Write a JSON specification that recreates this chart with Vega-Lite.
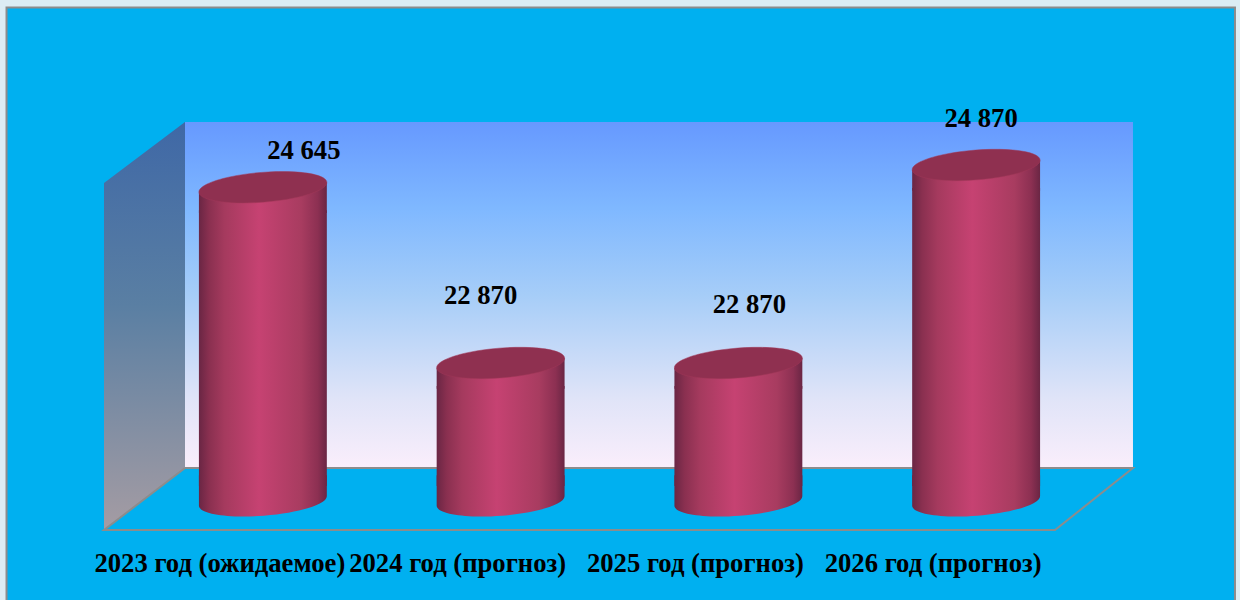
{
  "$schema": "https://vega.github.io/schema/vega-lite/v6.json",
  "width": 951,
  "height": 408,
  "autosize": {"type": "none"},
  "padding": {"left": 104, "top": 122, "right": 185, "bottom": 70},
  "background": "#dcedf4",
  "config": {"view": {"stroke": null}},
  "datasets": {
    "bars": [
      {"period": "2023 год (ожидаемое)", "value": 24645, "label": "24 645"},
      {"period": "2024 год (прогноз)", "value": 22870, "label": "22 870"},
      {"period": "2025 год (прогноз)", "value": 22870, "label": "22 870"},
      {"period": "2026 год (прогноз)", "value": 24870, "label": "24 870"}
    ],
    "panel": [{"u": -0.41, "u2": 4.757, "v": 26754, "v2": 20749}],
    "backWall": [{"u": 0.3407, "u2": 4.328, "v": 25597, "v2": 22102}],
    "leftWall": [
      {"u": 0, "v": 24981, "v2": 21476},
      {"u": 0.3407, "v": 25597, "v2": 22102}
    ],
    "floor": [
      {"n": 1, "u": 0.3407, "v": 22102},
      {"n": 2, "u": 4.328, "v": 22102},
      {"n": 3, "u": 4, "v": 21476},
      {"n": 4, "u": 0, "v": 21476},
      {"n": 5, "u": 0.3407, "v": 22102}
    ]
  },
  "layer": [
    {
      "data": {"name": "panel"},
      "mark": {"type": "rect", "fill": "#00b0f0", "stroke": "#8c8c8c", "strokeWidth": 2, "clip": false},
      "encoding": {
        "x": {"field": "u", "type": "quantitative", "scale": {"domain": [0, 4], "nice": false, "zero": false}, "axis": null},
        "x2": {"field": "u2"},
        "y": {"field": "v", "type": "quantitative", "scale": {"domain": [21476, 25597], "nice": false, "zero": false}, "axis": null},
        "y2": {"field": "v2"}
      }
    },
    {
      "data": {"name": "backWall"},
      "mark": {"type": "rect", "fill": {"gradient": "linear", "x1": 0, "y1": 0, "x2": 0, "y2": 1, "stops": [
        {"offset": 0, "color": "#6699ff"},
        {"offset": 0.25, "color": "#7fb8ff"},
        {"offset": 0.5, "color": "#a6cdf8"},
        {"offset": 0.8, "color": "#e0e4f8"},
        {"offset": 1, "color": "#faeefb"}
      ]}},
      "encoding": {
        "x": {"field": "u", "type": "quantitative", "scale": {"domain": [0, 4], "nice": false, "zero": false}, "axis": null},
        "x2": {"field": "u2"},
        "y": {"field": "v", "type": "quantitative", "axis": null},
        "y2": {"field": "v2"}
      }
    },
    {
      "data": {"name": "leftWall"},
      "mark": {"type": "area", "orient": "vertical", "fill": {"gradient": "linear", "x1": 0, "y1": 0, "x2": 0, "y2": 1, "stops": [
        {"offset": 0, "color": "#3f68a6"},
        {"offset": 0.45, "color": "#5a7fa3"},
        {"offset": 1, "color": "#a59ca3"}
      ]}},
      "encoding": {
        "x": {"field": "u", "type": "quantitative", "scale": {"domain": [0, 4], "nice": false, "zero": false}, "axis": null},
        "y": {"field": "v", "type": "quantitative", "axis": null},
        "y2": {"field": "v2"}
      }
    },
    {
      "data": {"name": "floor"},
      "mark": {"type": "line", "color": "#8c8c8c", "strokeWidth": 2, "clip": false},
      "encoding": {
        "x": {"field": "u", "type": "quantitative", "scale": {"domain": [0, 4], "nice": false, "zero": false}, "axis": null},
        "y": {"field": "v", "type": "quantitative", "axis": null},
        "order": {"field": "n"}
      }
    },
    {
      "data": {"name": "bars"},
      "mark": {"type": "point", "filled": true, "opacity": 1, "size": 16461, "xOffset": 40, "yOffset": -29,
        "shape": "M -0.9969 -0.4 L 0.9969 -0.4 L 0.9969 -0.0785 A 1 0.231 -4.5 0 1 -0.9969 0.0785 Z",
        "fill": {"gradient": "linear", "x1": 0, "y1": 0, "x2": 1, "y2": 0, "stops": [
          {"offset": 0, "color": "#6a2644"},
          {"offset": 0.08, "color": "#8a3050"},
          {"offset": 0.2, "color": "#a53a5e"},
          {"offset": 0.47, "color": "#c64272"},
          {"offset": 0.8, "color": "#a83c60"},
          {"offset": 0.93, "color": "#8c3052"},
          {"offset": 1, "color": "#6a2644"}
        ]}},
      "encoding": {
        "x": {"field": "period", "type": "nominal", "sort": null, "scale": {"type": "band", "paddingInner": 0.462, "paddingOuter": 0.231}, "axis": null},
        "y": {"datum": 21476, "type": "quantitative", "axis": null}
      }
    },
    {
      "data": {"name": "bars"},
      "mark": {"type": "point", "filled": true, "opacity": 1, "size": 16461, "xOffset": 40, "yOffset": -29,
        "shape": "M -0.9969 0.0785 L -0.9969 0.4 L 0.9969 0.4 L 0.9969 -0.0785 Z",
        "fill": {"gradient": "linear", "x1": 0, "y1": 0, "x2": 1, "y2": 0, "stops": [
          {"offset": 0, "color": "#6a2644"},
          {"offset": 0.08, "color": "#8a3050"},
          {"offset": 0.2, "color": "#a53a5e"},
          {"offset": 0.47, "color": "#c64272"},
          {"offset": 0.8, "color": "#a83c60"},
          {"offset": 0.93, "color": "#8c3052"},
          {"offset": 1, "color": "#6a2644"}
        ]}},
      "encoding": {
        "x": {"field": "period", "type": "nominal", "sort": null, "scale": {"type": "band", "paddingInner": 0.462, "paddingOuter": 0.231}, "axis": null},
        "y": {"field": "value", "type": "quantitative", "axis": null}
      }
    },
    {
      "data": {"name": "bars"},
      "mark": {"type": "bar", "xOffset": 40, "x2Offset": 40, "yOffset": -6, "y2Offset": -44,
        "fill": {"gradient": "linear", "x1": 0, "y1": 0, "x2": 1, "y2": 0, "stops": [
          {"offset": 0, "color": "#6a2644"},
          {"offset": 0.08, "color": "#8a3050"},
          {"offset": 0.2, "color": "#a53a5e"},
          {"offset": 0.47, "color": "#c64272"},
          {"offset": 0.8, "color": "#a83c60"},
          {"offset": 0.93, "color": "#8c3052"},
          {"offset": 1, "color": "#6a2644"}
        ]}},
      "encoding": {
        "x": {"field": "period", "type": "nominal", "sort": null, "scale": {"type": "band", "paddingInner": 0.462, "paddingOuter": 0.231},
          "axis": {"title": null, "orient": "bottom", "zindex": 1, "ticks": false, "domain": false, "grid": false, "labelAngle": 0, "labelFont": "Liberation Serif", "labelFontWeight": "bold", "labelFontSize": 26.67, "labelColor": "#000000", "labelPadding": 20, "labelOverlap": false, "labelLimit": 0, "labelBound": false, "labelFlush": false, "labelOffset": -3}},
        "y": {"field": "value", "type": "quantitative", "axis": null},
        "y2": {"datum": 21476}
      }
    },
    {
      "data": {"name": "bars"},
      "mark": {"type": "point", "filled": true, "opacity": 1, "size": 16461, "xOffset": 40, "yOffset": -29, "fill": "#8f3050", "stroke": "#a03858", "strokeWidth": 0.5,
        "shape": "M -0.9969 0.0785 A 1 0.231 -4.5 1 1 0.9969 -0.0785 A 1 0.231 -4.5 1 1 -0.9969 0.0785 Z"},
      "encoding": {
        "x": {"field": "period", "type": "nominal", "sort": null, "scale": {"type": "band", "paddingInner": 0.462, "paddingOuter": 0.231}, "axis": null},
        "y": {"field": "value", "type": "quantitative", "axis": null}
      }
    },
    {
      "data": {"name": "bars"},
      "transform": [{"filter": "datum.period === '2023 год (ожидаемое)'"}],
      "mark": {"type": "text", "font": "Liberation Serif", "fontWeight": "bold", "fontSize": 26.67, "color": "#000000", "align": "center", "baseline": "middle", "dx": 81, "dy": -65},
      "encoding": {
        "x": {"field": "period", "type": "nominal", "sort": null, "scale": {"type": "band", "domain": ["2023 год (ожидаемое)", "2024 год (прогноз)", "2025 год (прогноз)", "2026 год (прогноз)"], "paddingInner": 0.462, "paddingOuter": 0.231}, "axis": null},
        "y": {"field": "value", "type": "quantitative", "axis": null},
        "text": {"field": "label"}
      }
    },
    {
      "data": {"name": "bars"},
      "transform": [{"filter": "datum.period === '2024 год (прогноз)'"}],
      "mark": {"type": "text", "font": "Liberation Serif", "fontWeight": "bold", "fontSize": 26.67, "color": "#000000", "align": "center", "baseline": "middle", "dx": 20, "dy": -96},
      "encoding": {
        "x": {"field": "period", "type": "nominal", "sort": null, "scale": {"type": "band", "domain": ["2023 год (ожидаемое)", "2024 год (прогноз)", "2025 год (прогноз)", "2026 год (прогноз)"], "paddingInner": 0.462, "paddingOuter": 0.231}, "axis": null},
        "y": {"field": "value", "type": "quantitative", "axis": null},
        "text": {"field": "label"}
      }
    },
    {
      "data": {"name": "bars"},
      "transform": [{"filter": "datum.period === '2025 год (прогноз)'"}],
      "mark": {"type": "text", "font": "Liberation Serif", "fontWeight": "bold", "fontSize": 26.67, "color": "#000000", "align": "center", "baseline": "middle", "dx": 51, "dy": -87},
      "encoding": {
        "x": {"field": "period", "type": "nominal", "sort": null, "scale": {"type": "band", "domain": ["2023 год (ожидаемое)", "2024 год (прогноз)", "2025 год (прогноз)", "2026 год (прогноз)"], "paddingInner": 0.462, "paddingOuter": 0.231}, "axis": null},
        "y": {"field": "value", "type": "quantitative", "axis": null},
        "text": {"field": "label"}
      }
    },
    {
      "data": {"name": "bars"},
      "transform": [{"filter": "datum.period === '2026 год (прогноз)'"}],
      "mark": {"type": "text", "font": "Liberation Serif", "fontWeight": "bold", "fontSize": 26.67, "color": "#000000", "align": "center", "baseline": "middle", "dx": 45, "dy": -75},
      "encoding": {
        "x": {"field": "period", "type": "nominal", "sort": null, "scale": {"type": "band", "domain": ["2023 год (ожидаемое)", "2024 год (прогноз)", "2025 год (прогноз)", "2026 год (прогноз)"], "paddingInner": 0.462, "paddingOuter": 0.231}, "axis": null},
        "y": {"field": "value", "type": "quantitative", "axis": null},
        "text": {"field": "label"}
      }
    }
  ],
  "resolve": {"scale": {"x": "independent"}}
}
